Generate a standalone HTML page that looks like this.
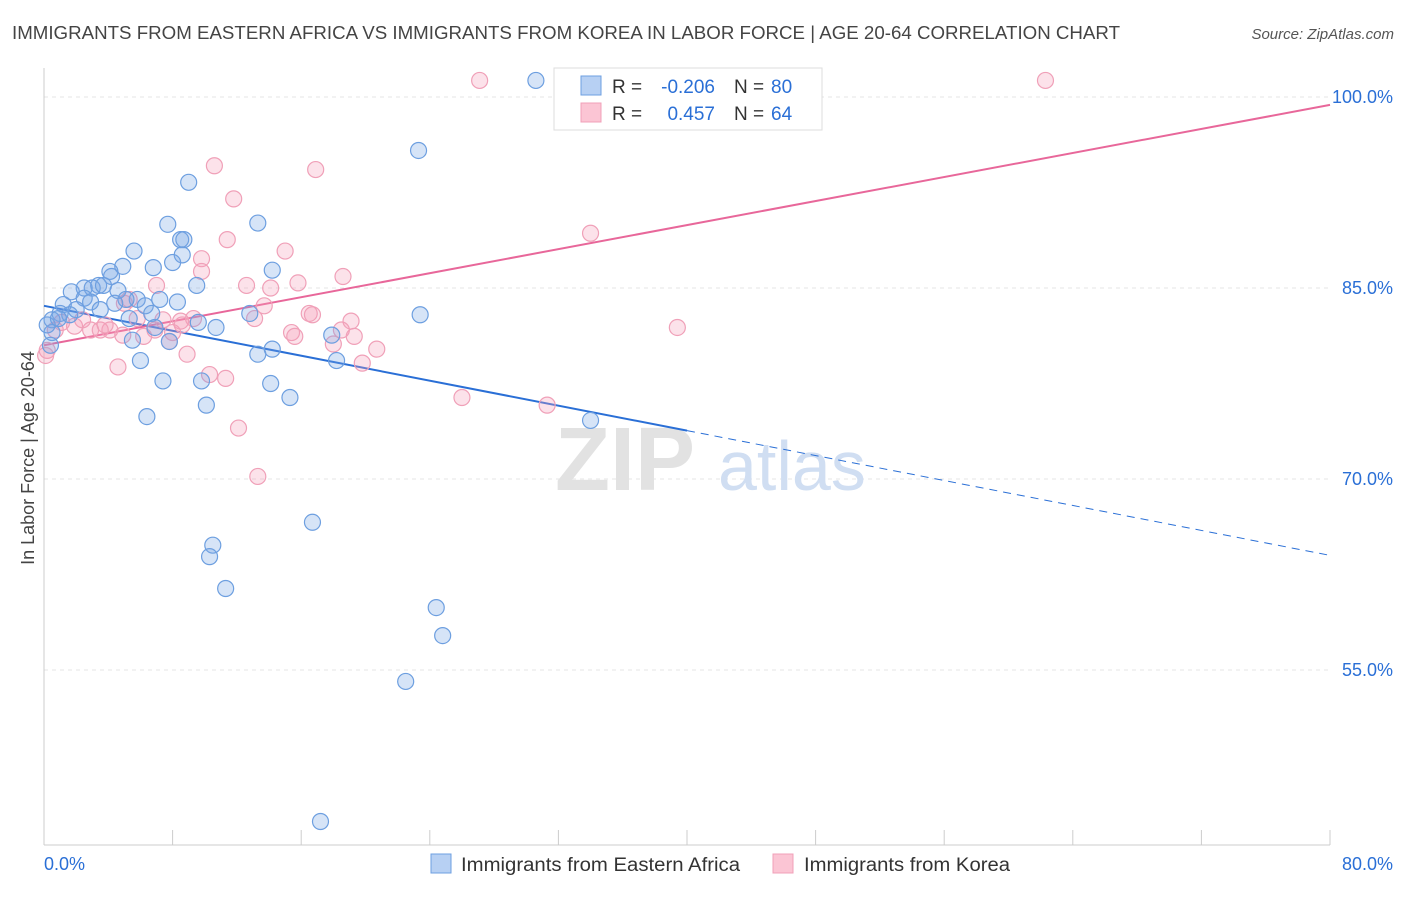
<!DOCTYPE html>
<html><head><meta charset="utf-8"><style>
body{margin:0;background:#fff;font-family:"Liberation Sans",sans-serif;}
svg text{font-family:"Liberation Sans",sans-serif;}
</style></head><body>
<svg id="chart" width="1406" height="892" xmlns="http://www.w3.org/2000/svg">
<text x="12" y="39" font-size="18" fill="#444" textLength="1108" lengthAdjust="spacingAndGlyphs">IMMIGRANTS FROM EASTERN AFRICA VS IMMIGRANTS FROM KOREA IN LABOR FORCE | AGE 20-64 CORRELATION CHART</text>
<text x="1394" y="39" font-size="15" fill="#555" text-anchor="end" font-style="italic">Source: ZipAtlas.com</text>
<g id="grid"></g>
<g><text x="555" y="490" font-size="90" fill="#e2e2e2" font-family="Liberation Serif" font-weight="bold">ZIP</text><text x="718" y="490" font-size="70" fill="#d0def2">atlas</text></g>
<g id="axes"></g>
<g id="lines"></g>
<g id="pts"></g>
<text transform="translate(34,458) rotate(-90)" font-size="18" fill="#444" text-anchor="middle">In Labor Force | Age 20-64</text>
<g>
<rect x="554" y="68" width="268" height="62" fill="#fff" stroke="#ddd"/>
<rect x="581" y="76" width="20" height="19" fill="#b7d0f3" stroke="#6d9fe0"/>
<rect x="581" y="103" width="20" height="19" fill="#fbc5d4" stroke="#f0a0b8"/>
<text x="612" y="93" font-size="19" fill="#333">R =</text>
<text x="715" y="93" font-size="19" fill="#2a6fd6" text-anchor="end">-0.206</text>
<text x="734" y="93" font-size="19" fill="#333">N =</text>
<text x="771" y="93" font-size="19" fill="#2a6fd6">80</text>
<text x="612" y="120" font-size="19" fill="#333">R =</text>
<text x="715" y="120" font-size="19" fill="#2a6fd6" text-anchor="end">0.457</text>
<text x="734" y="120" font-size="19" fill="#333">N =</text>
<text x="771" y="120" font-size="19" fill="#2a6fd6">64</text>
</g>
<g>
<rect x="431" y="854" width="20" height="19" fill="#b7d0f3" stroke="#6d9fe0"/>
<text x="461" y="871" font-size="19" fill="#333" textLength="279" lengthAdjust="spacingAndGlyphs">Immigrants from Eastern Africa</text>
<rect x="773" y="854" width="20" height="19" fill="#fbc5d4" stroke="#f0a0b8"/>
<text x="804" y="871" font-size="19" fill="#333" textLength="206" lengthAdjust="spacingAndGlyphs">Immigrants from Korea</text>
</g>
</svg>
<script>
const blueX=[30.6,33.0,23.3,9.0,7.7,13.3,8.5,8.7,5.6,8.6,8.0,4.9,6.8,14.2,4.1,4.2,3.4,9.5,2.5,3.0,3.7,4.6,1.7,2.5,7.2,5.8,8.3,5.1,6.3,1.2,2.9,4.4,2.0,3.5,6.7,12.8,23.4,1.0,0.5,9.6,10.7,6.9,5.3,0.5,17.9,5.5,7.8,14.2,13.3,18.2,6.0,7.4,9.8,14.1,15.3,10.1,6.4,34.0,16.7,10.5,10.3,11.3,24.4,24.8,22.5,17.2,0.2,0.4,1.6,0.9];
const blueY=[101.3,101.3,95.8,93.3,90.0,90.1,88.8,88.8,87.9,87.6,87.0,86.7,86.6,86.4,86.3,85.9,85.2,85.2,85.0,85.0,85.2,84.8,84.7,84.2,84.1,84.1,83.9,84.1,83.6,83.7,83.9,83.8,83.3,83.3,83.0,83.0,82.9,83.0,82.5,82.3,81.9,81.9,82.6,81.5,81.3,80.9,80.8,80.2,79.8,79.3,79.3,77.7,77.7,77.5,76.4,75.8,74.9,74.6,66.6,64.8,63.9,61.4,59.9,57.7,54.1,43.1,82.1,80.5,82.9,82.6];
const pinkX=[27.1,62.3,10.6,16.9,11.8,34.0,11.4,15.0,9.8,9.8,18.6,12.6,15.8,14.1,7.0,5.3,13.7,5.0,16.5,16.7,13.1,9.3,8.5,7.4,5.8,19.1,39.4,1.9,2.9,4.1,4.9,6.2,6.9,8.6,8.0,15.4,15.6,18.5,19.3,1.1,0.7,3.5,7.8,20.7,18.0,8.9,19.8,10.3,11.3,4.6,26.0,31.3,12.1,13.3,0.2,0.1,3.8,2.4];
const pinkY=[101.3,101.3,94.6,94.3,92.0,89.3,88.8,87.9,87.3,86.3,85.9,85.2,85.4,85.0,85.2,84.1,83.6,83.8,83.0,82.9,82.6,82.6,82.4,82.5,82.6,82.4,81.9,82.0,81.7,81.7,81.3,81.2,81.7,82.1,81.5,81.5,81.2,81.7,81.2,82.3,81.7,81.7,80.8,80.2,80.6,79.8,79.1,78.2,77.9,78.8,76.4,75.8,74.0,70.2,80.1,79.7,82.1,82.5];
const blueTrend=[83.6,-0.245]; // intercept, slope
const pinkTrend=[80.5,0.236];
const yTicks=[100,85,70,55];
const yTickLabels=["100.0%","85.0%","70.0%","55.0%"];
const xTickLabels=["0.0%","80.0%"];
const NS="http://www.w3.org/2000/svg";
const sx=v=>44+v*16.075, sy=v=>97+(100-v)*12.733;
function mk(t,a,p){const e=document.createElementNS(NS,t);for(const k in a)e.setAttribute(k,a[k]);p.appendChild(e);return e;}
const grid=document.getElementById('grid'),axes=document.getElementById('axes'),lines=document.getElementById('lines'),pts=document.getElementById('pts');
yTicks.forEach((t,i)=>{
 const g=mk('line',{x1:44,x2:1330,y1:sy(t),y2:sy(t),stroke:'#e4e4e4','stroke-dasharray':'4,4'},grid);
 
 
 const l=mk('text',{x:1393,y:sy(t)+6,'font-size':18,fill:'#2a6fd6','text-anchor':'end'},axes);l.textContent=yTickLabels[i];
 
 
});
mk('line',{x1:44,x2:44,y1:68,y2:845,stroke:'#ccc'},axes);
mk('line',{x1:44,x2:1330,y1:845,y2:845,stroke:'#ccc'},axes);
for(let i=0;i<=10;i++){const x=44+i*128.6;const tk=mk('line',{x1:x,x2:x,y1:830,y2:845,stroke:'#ccc'},axes);
 
 }
const xl0=mk('text',{x:44,y:870,'font-size':18,fill:'#2a6fd6'},axes);xl0.textContent=xTickLabels[0];


const xl1=mk('text',{x:1393,y:870,'font-size':18,fill:'#2a6fd6','text-anchor':'end'},axes);xl1.textContent=xTickLabels[1];


const f=(t,x)=>t[0]+t[1]*x;
function dot(x,y,fill,stroke){const c=mk('circle',{cx:sx(x),cy:sy(y),r:8,fill:fill,stroke:stroke,'stroke-width':1.2},pts);return c;}
pinkX.forEach((x,i)=>{const c=dot(x,pinkY[i],'rgba(245,160,185,0.3)','#f0a0b8');
 
 });
blueX.forEach((x,i)=>{const c=dot(x,blueY[i],'rgba(120,165,230,0.3)','#6d9fe0');
 
 });
const bl=mk('line',{x1:sx(0),y1:sy(f(blueTrend,0)),x2:sx(40),y2:sy(f(blueTrend,40)),stroke:'#2a6fd6','stroke-width':2},lines);


const bd=mk('line',{x1:sx(40),y1:sy(f(blueTrend,40)),x2:sx(80),y2:sy(f(blueTrend,80)),stroke:'#2a6fd6','stroke-width':1,'stroke-dasharray':'8,6'},lines);


const pl=mk('line',{x1:sx(0),y1:sy(f(pinkTrend,0)),x2:sx(80),y2:sy(f(pinkTrend,80)),stroke:'#e8679a','stroke-width':2},lines);


</script>
</body></html>
